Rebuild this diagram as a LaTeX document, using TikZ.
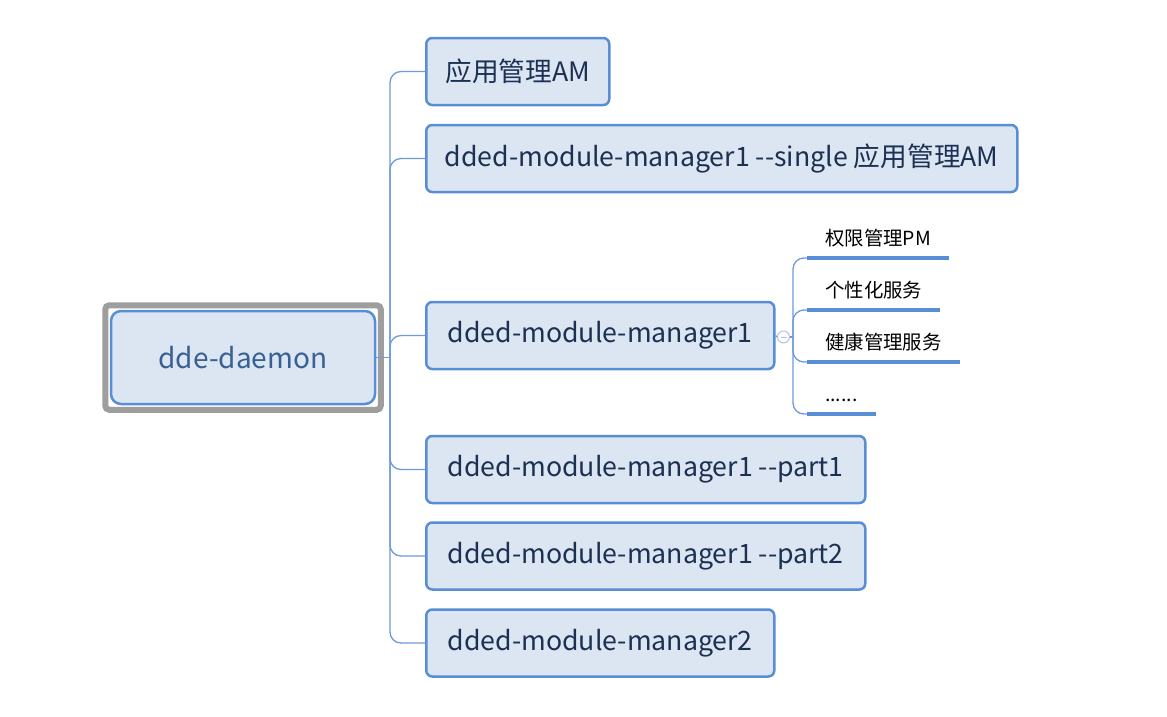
\documentclass[tikz,border=0pt]{standalone}
\usepackage{fontspec}
\setmainfont{Noto Sans CJK SC}
\usetikzlibrary{fit}
\definecolor{boxfill}{RGB}{220,230,242}
\definecolor{boxline}{RGB}{88,142,212}
\definecolor{conncol}{RGB}{110,154,216}
\definecolor{maintext}{RGB}{28,48,82}
\definecolor{roottext}{RGB}{56,96,146}
\definecolor{framegray}{RGB}{158,158,158}
\definecolor{knob}{RGB}{176,196,226}
\tikzset{
  topicbox/.style={draw=boxline, line width=2.5pt, fill=boxfill, rounded corners=6pt,
    minimum height=67pt, anchor=west, inner sep=0pt, text=maintext,
    font=\fontsize{26.7}{32}\selectfont},
  conn/.style={draw=conncol, line width=1.3pt, rounded corners=11pt},
  subtopic/.style={anchor=south west, inner xsep=18pt, inner ysep=0pt, text depth=12pt,
    text height=16pt, font=\fontsize{19.4}{23}\selectfont, text=black},
  underline/.style={draw=boxline, line width=4pt},
}
\begin{document}
\begin{tikzpicture}[x=1pt,y=-1pt]
\useasboundingbox[fill=white] (0,0) rectangle (1167,716);
% root
\node[draw=boxline, line width=2.5pt, fill=boxfill, rounded corners=10pt,
  minimum width=264pt, minimum height=93pt, inner sep=0pt, text=roottext,
  font=\fontsize{28}{33}\selectfont] (root) at (243,357.5) {dde-daemon};
\node[draw=framegray, line width=6pt, rounded corners=4pt, inner sep=4.5pt, fit=(root)] (frame) {};
% children
\node[topicbox, minimum width=183pt] (c1) at (425,71.5) {应用管理AM};
\node[topicbox, minimum width=591pt] (c2) at (425,158.5) {dded-module-manager1 {-}{-}single 应用管理AM};
\node[topicbox, minimum width=348pt] (c3) at (425,335.5) {dded-module-manager1};
\node[topicbox, minimum width=439pt] (c4) at (425,469.5) {dded-module-manager1 {-}{-}part1};
\node[topicbox, minimum width=439pt] (c5) at (425,556) {dded-module-manager1 {-}{-}part2};
\node[topicbox, minimum width=348pt] (c6) at (425,643) {dded-module-manager2};
% trunk
\coordinate (j) at (390,357.5);
\draw[conn] (root.east) -- (j);
\foreach \c in {c1,c2,c3,c4,c5,c6}{
  \draw[conn] (j) |- (\c.west);
}
% collapse knob
\node[circle, draw=knob, fill=white, line width=1pt, minimum size=12pt, inner sep=0pt] (knob) at (783.5,337) {};
\draw[knob, line width=1pt] ([xshift=-3pt]knob.center) -- ([xshift=3pt]knob.center);
\draw[conn] (c3.east) -- (knob.west);
\coordinate (j2) at (793,337);
\draw[conn] (knob.east) -- (j2);
% subtopics
\node[subtopic] (s1) at (807,258) {权限管理PM};
\node[subtopic] (s2) at (807,310) {个性化服务};
\node[subtopic] (s3) at (807,362) {健康管理服务};
\node[subtopic] (s4) at (807,414) {......};
\foreach \s in {s1,s2,s3,s4}{
  \draw[conn] (j2) |- (\s.south west);
  \draw[underline] (\s.south west) -- (\s.south east);
}
\end{tikzpicture}
\end{document}
